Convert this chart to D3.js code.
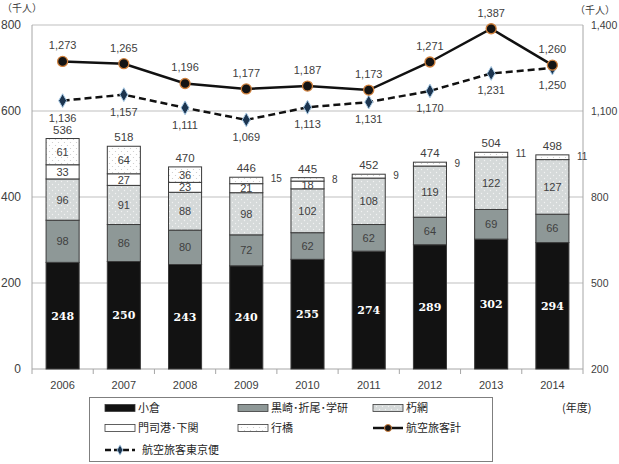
<!DOCTYPE html>
<html><head><meta charset="utf-8">
<script src="https://cdn.jsdelivr.net/npm/d3@7"></script>
<style>
body{margin:0;background:#fff;}
svg{display:block;font-family:"Noto Sans CJK JP","Liberation Sans",sans-serif;}
</style></head>
<body><svg id="c" width="619" height="464"></svg>
<script>
const years = ["2006","2007","2008","2009","2010","2011","2012","2013","2014"];
const kokura = [248,250,243,240,255,274,289,302,294];
const kurosaki = [98,86,80,72,62,62,64,69,66];
const kusami = [96,91,88,98,102,108,119,122,127];
const mojiko = [33,27,23,21,18,0,0,0,0];
const yukuhashi = [61,64,36,15,8,9,9,11,11];
const totals = [536,518,470,446,445,452,474,504,498];
const airTotal = [1273,1265,1196,1177,1187,1173,1271,1387,1260];
const airTokyo = [1136,1157,1111,1069,1113,1131,1170,1231,1250];
const leftTicks = [0,200,400,600,800];
const rightTicks = [200,500,800,1100,1400];
const seriesNames = ["小倉","黒崎･折尾･学研","朽網","門司港･下関","行橋"];

const svg = d3.select("#c");
const L = 32, R = 583, T = 25, B = 369;
const x = d3.scaleBand().domain(years).range([L,R]).paddingInner(0.46).paddingOuter(0.23);
const yL = d3.scaleLinear().domain([0,800]).range([B,T]);
const yR = d3.scaleLinear().domain([200,1400]).range([B,T]);
const fmt = d3.format(",");

// patterns
const defs = svg.append("defs");
const p1 = defs.append("pattern").attr("id","pKusami").attr("width",6).attr("height",6).attr("patternUnits","userSpaceOnUse");
p1.append("rect").attr("width",6).attr("height",6).attr("fill","#d5d9d9");
p1.append("circle").attr("cx",1.5).attr("cy",1.5).attr("r",0.7).attr("fill","#f2f2f2");
p1.append("circle").attr("cx",4.5).attr("cy",4.5).attr("r",0.7).attr("fill","#f2f2f2");
const p2 = defs.append("pattern").attr("id","pYuku").attr("width",6).attr("height",6).attr("patternUnits","userSpaceOnUse");
p2.append("rect").attr("width",6).attr("height",6).attr("fill","#ffffff");
p2.append("circle").attr("cx",1.5).attr("cy",1.5).attr("r",0.6).attr("fill","#c8c8c8");
p2.append("circle").attr("cx",4.5).attr("cy",4.5).attr("r",0.6).attr("fill","#c8c8c8");

const fills = ["#121212","#8e9897","url(#pKusami)","#ffffff","url(#pYuku)"];

// gridlines
svg.append("g").selectAll("line").data(leftTicks.slice(1)).join("line")
  .attr("x1",L).attr("x2",R).attr("y1",d=>yL(d)).attr("y2",d=>yL(d))
  .attr("stroke","#bfbfbf").attr("stroke-width",1);
// axes lines
svg.append("line").attr("x1",L).attr("x2",L).attr("y1",T).attr("y2",B).attr("stroke","#a6a6a6");
svg.append("line").attr("x1",R).attr("x2",R).attr("y1",T).attr("y2",B).attr("stroke","#a6a6a6");
svg.append("line").attr("x1",L).attr("x2",R).attr("y1",B).attr("y2",B).attr("stroke","#a6a6a6");

// left tick labels
svg.append("g").selectAll("text").data(leftTicks).join("text")
  .attr("x",21).attr("y",d=>yL(d)+4).attr("text-anchor","end")
  .attr("font-size",12).attr("fill","#404040").attr("font-family","Liberation Sans, sans-serif").text(d=>d);
svg.append("g").selectAll("text").data(rightTicks).join("text")
  .attr("x",591).attr("y",d=>yR(d)+4).attr("text-anchor","start")
  .attr("font-size",10.5).attr("fill","#404040").attr("font-family","Liberation Sans, sans-serif").text(d=>fmt(d));
// x ticks
svg.append("g").selectAll("line").data(d3.range(years.length+1)).join("line")
  .attr("x1",i=>L + i*(R-L)/years.length).attr("x2",i=>L + i*(R-L)/years.length)
  .attr("y1",B).attr("y2",B+5).attr("stroke","#a6a6a6");
svg.append("g").selectAll("text").data(years).join("text")
  .attr("x",d=>x(d)+x.bandwidth()/2).attr("y",389).attr("text-anchor","middle")
  .attr("font-size",11).attr("fill","#404040").attr("font-family","Liberation Sans, sans-serif").text(d=>d);

svg.append("text").attr("x",2).attr("y",12).attr("font-size",10).attr("fill","#404040").text("（千人）");
svg.append("text").attr("x",575).attr("y",14).attr("font-size",10).attr("fill","#404040").text("（千人）");

// stacked bars
const series = [kokura,kurosaki,kusami,mojiko,yukuhashi];
const gB = svg.append("g");
years.forEach((yr,i)=>{
  let base = 0;
  series.forEach((s,k)=>{
    const v = s[i];
    if (v>0){
      gB.append("rect").attr("x",x(yr)).attr("width",x.bandwidth())
        .attr("y",yL(base+v)).attr("height",yL(base)-yL(base+v))
        .attr("fill",fills[k]).attr("stroke","#3a3a3a").attr("stroke-width",1);
      const cx = x(yr)+x.bandwidth()/2, cy = (yL(base)+yL(base+v))/2;
      if (k===0){
        gB.append("text").attr("x",cx).attr("y",cy+4).attr("text-anchor","middle")
          .attr("font-family","DejaVu Serif, serif").attr("font-weight","bold").attr("font-size",11)
          .attr("fill","#ffffff").text(v);
      } else if (v>=18){
        gB.append("text").attr("x",cx).attr("y",cy+4).attr("text-anchor","middle")
          .attr("font-family","Liberation Sans, sans-serif").attr("font-size",11)
          .attr("fill","#404040").text(v);
      } else {
        gB.append("text").attr("x",x(yr)+x.bandwidth()+8).attr("y",yL(base+v)+5).attr("text-anchor","start")
          .attr("font-family","Liberation Sans, sans-serif").attr("font-size",10)
          .attr("fill","#404040").text(v);
      }
    }
    base += v;
  });
  gB.append("text").attr("x",x(yr)+x.bandwidth()/2).attr("y",yL(base)-5).attr("text-anchor","middle")
    .attr("font-family","Liberation Sans, sans-serif").attr("font-size",11.5).attr("fill","#404040").text(totals[i]);
});

// lines
const cxOf = d=>x(d)+x.bandwidth()/2;
const lineT = d3.line().x((d,i)=>cxOf(years[i])).y(d=>yR(d));
svg.append("path").attr("d",lineT(airTokyo)).attr("fill","none").attr("stroke","#111")
  .attr("stroke-width",2.5).attr("stroke-dasharray","7,4");
svg.append("path").attr("d",lineT(airTotal)).attr("fill","none").attr("stroke","#111").attr("stroke-width",2.5);
svg.append("g").selectAll("path").data(airTokyo).join("path")
  .attr("d",d3.symbol().type(d3.symbolDiamond).size(55))
  .attr("transform",(d,i)=>`translate(${cxOf(years[i])},${yR(d)})`)
  .attr("fill","#1c3550").attr("stroke","#a9cbe6").attr("stroke-width",1);
svg.append("g").selectAll("circle").data(airTotal).join("circle")
  .attr("cx",(d,i)=>cxOf(years[i])).attr("cy",d=>yR(d)).attr("r",5)
  .attr("fill","#141414").attr("stroke","#d0803c").attr("stroke-width",1.3);
svg.append("g").selectAll("text").data(airTotal).join("text")
  .attr("x",(d,i)=>cxOf(years[i])).attr("y",d=>yR(d)-12).attr("text-anchor","middle")
  .attr("font-family","Liberation Sans, sans-serif").attr("font-size",11).attr("fill","#404040").text(d=>fmt(d));
svg.append("g").selectAll("text").data(airTokyo).join("text")
  .attr("x",(d,i)=>cxOf(years[i])).attr("y",d=>yR(d)+21).attr("text-anchor","middle")
  .attr("font-family","Liberation Sans, sans-serif").attr("font-size",11).attr("fill","#404040").text(d=>fmt(d));

// legend
const lg = svg.append("g");
lg.append("rect").attr("x",89.5).attr("y",397.5).attr("width",403).attr("height",64)
  .attr("fill","#fff").attr("stroke","#7f7f7f").attr("stroke-width",1);
const items = [
  {name:seriesNames[0],type:"bar",fill:fills[0],x:105,y:408},
  {name:seriesNames[1],type:"bar",fill:fills[1],x:238,y:408},
  {name:seriesNames[2],type:"bar",fill:fills[2],x:373,y:408},
  {name:seriesNames[3],type:"bar",fill:fills[3],x:105,y:428},
  {name:seriesNames[4],type:"bar",fill:fills[4],x:238,y:428},
  {name:"航空旅客計",type:"lineT",x:373,y:428},
  {name:"航空旅客東京便",type:"lineD",x:105,y:450}
];
items.forEach(it=>{
  if (it.type==="bar"){
    lg.append("rect").attr("x",it.x).attr("y",it.y-3.5).attr("width",30).attr("height",7)
      .attr("fill",it.fill).attr("stroke","#3a3a3a").attr("stroke-width",0.8);
  } else if (it.type==="lineT"){
    lg.append("line").attr("x1",it.x).attr("x2",it.x+30).attr("y1",it.y).attr("y2",it.y).attr("stroke","#111").attr("stroke-width",2.5);
    lg.append("circle").attr("cx",it.x+15).attr("cy",it.y).attr("r",3.5).attr("fill","#141414").attr("stroke","#d0803c").attr("stroke-width",1);
  } else {
    lg.append("line").attr("x1",it.x).attr("x2",it.x+30).attr("y1",it.y).attr("y2",it.y).attr("stroke","#111").attr("stroke-width",2.5).attr("stroke-dasharray","6,3");
    lg.append("path").attr("d",d3.symbol().type(d3.symbolDiamond).size(30)).attr("transform",`translate(${it.x+15},${it.y})`)
      .attr("fill","#1c3550").attr("stroke","#a9cbe6").attr("stroke-width",0.8);
  }
  lg.append("text").attr("x",it.x+33+(it.type==="lineD"?4:0)).attr("y",it.y+4).attr("font-size",11).attr("fill","#262626").text(it.name);
});
svg.append("text").attr("x",562).attr("y",412).attr("font-size",11).attr("fill","#262626").text("(年度)");
</script></body></html>
